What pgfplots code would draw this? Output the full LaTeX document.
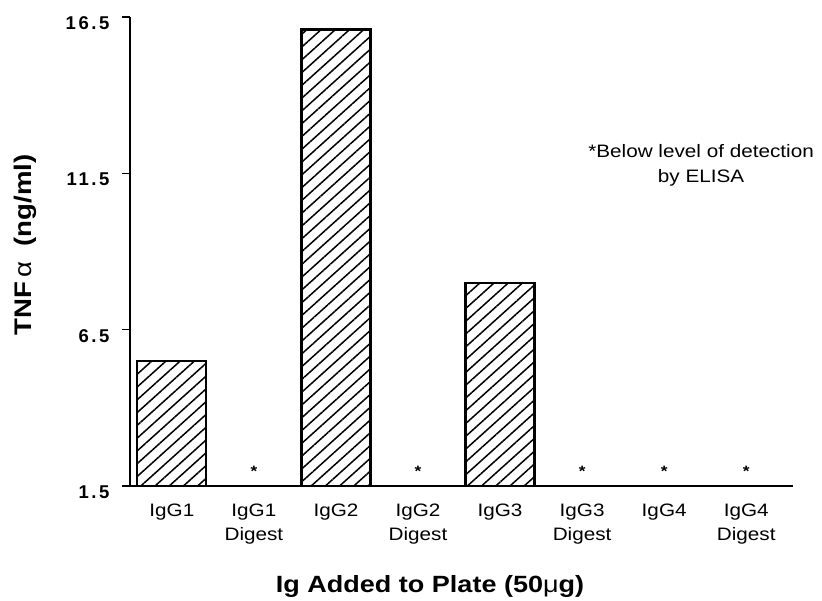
\documentclass[border=0pt]{standalone}
\usepackage{pgfplots}
\pgfplotsset{compat=1.18}
\usepackage{fontspec}
\setmainfont{Liberation Sans}[FakeStretch=1.15]
\newfontfamily\tickfont{Liberation Sans}[LetterSpace=14]
\usetikzlibrary{patterns.meta}
\begin{document}
\begin{tikzpicture}
\begin{axis}[
  name=ax,
  at={(0,0)}, anchor=south west,
  scale only axis, width=663pt, height=469pt,
  xmin=-0.51, xmax=7.57, ymin=1.5, ymax=16.5,
  axis x line=bottom, axis y line=left,
  axis line style={line width=1.4pt, -},
  xtick={0,1,2,3,4,5,6,7},
  xticklabels={IgG1,{IgG1\\Digest},IgG2,{IgG2\\Digest},IgG3,{IgG3\\Digest},IgG4,{IgG4\\Digest}},
  xticklabel style={align=center, anchor=north, font=\fontsize{18}{24}\selectfont, yshift=-6pt},
  major x tick style={draw=none},
  ytick={1.5,6.5,11.5,16.5},
  yticklabels={1.5,6.5,11.5,16.5},
  yticklabel style={font=\tickfont\bfseries\fontsize{18.5}{18.5}\selectfont, anchor=east, yshift=-6pt, xshift=-9pt},
  tick align=outside, major tick length=8pt,
  major y tick style={line width=1.4pt, black},
  clip mode=individual,
]
\addplot[ybar, bar width=69pt, draw=black, line width=2.2pt,
  pattern={Lines[angle=42,distance=9.5pt,line width=1.5pt]}]
  coordinates {(0,5.5) (2,16.1) (4,8.0)};
\addplot[only marks, mark=text, text mark={\bfseries\fontsize{15}{15}\selectfont *}]
  coordinates {(1,1.98) (3,1.98) (5,1.98) (6,1.98) (7,1.98)};
\node[align=center, font=\fontsize{18}{25}\selectfont] at (axis cs:6.45,11.77) {*Below level of detection\\by ELISA};
\end{axis}
\node[rotate=90, font=\bfseries\fontsize{24}{24}\selectfont] at (-105pt,241pt) {TNF\,{\mdseries α}\ \ (ng/ml)};
\node[font=\bfseries\fontsize{23.5}{24}\selectfont] at (300pt,-100pt) {Ig Added to Plate (50{\mdseries μ}g)};
\pgfresetboundingbox
\path[use as bounding box] (-130pt,-114pt) rectangle (692pt,486pt);
\end{tikzpicture}
\end{document}
